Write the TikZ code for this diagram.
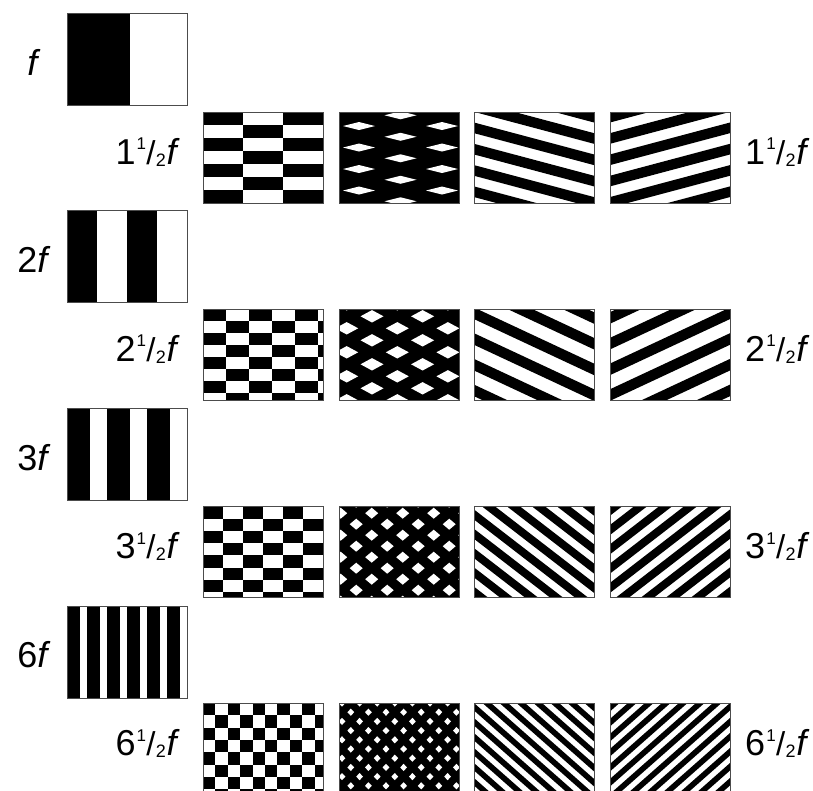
\documentclass[tikz,border=0pt]{standalone}
\usepackage{fontspec}
\setmainfont{Liberation Sans}
\tikzset{
  boxline/.style={draw=black!70, line width=0.9pt},
  lab/.style={inner sep=0pt, font=\fontsize{36}{36}\selectfont}
}
% vertical grating: x y period blackwidth
\newcommand\vgrat[4]{%
  \begin{scope}
    \clip (#1,#2) rectangle ++(120,92);
    \fill[white] (#1,#2) rectangle ++(120,92);
    \foreach \k in {0,...,6}{\fill[black] ({#1+\k*#3},#2) rectangle ++(#4,92);}
  \end{scope}
  \draw[boxline] (#1,#2) rectangle ++(120,92);}
% checkerboard: x y w h
\newcommand\checker[4]{%
  \begin{scope}
    \clip (#1,#2) rectangle ++(120,91);
    \fill[white] (#1,#2) rectangle ++(120,91);
    \foreach \i in {0,...,10}{\foreach \j in {0,...,8}{%
      \pgfmathtruncatemacro\ckpar{mod(\i+\j,2)}%
      \ifnum\ckpar=0 \fill[black] ({#1+\i*#3},{#2+\j*#4}) rectangle ++(#3,#4);\fi}}
  \end{scope}
  \draw[boxline] (#1,#2) rectangle ++(120,91);}
% oblique grating: x y Px Py d y0 flip
\newcommand\stripes[7]{%
  \begin{scope}
    \clip (#1,#2) rectangle ++(120,91);
    \fill[white] (#1,#2) rectangle ++(120,91);
    \begin{scope}[shift={(#1+60,#2)}, xscale=#7, shift={(-60,0)}]
      \pgfmathsetmacro\sl{#4/#3}%
      \pgfmathtruncatemacro\nlo{floor(-(#6+#4+120*\sl)/#4)-1}%
      \pgfmathtruncatemacro\nhi{ceil((91-#6)/#4)+1}%
      \foreach \n in {\nlo,...,\nhi}{%
        \fill[black] (0,{#6+\n*#4}) -- (120,{#6+\n*#4+120*\sl}) -- (120,{#6+(\n+#5)*#4+120*\sl}) -- (0,{#6+(\n+#5)*#4}) -- cycle;}
    \end{scope}
  \end{scope}
  \draw[boxline] (#1,#2) rectangle ++(120,91);}
% plaid with white diamonds: x y x0 y0 step Py a b
\newcommand\diam[8]{%
  \begin{scope}
    \clip (#1,#2) rectangle ++(120,91);
    \fill[black] (#1,#2) rectangle ++(120,91);
    \foreach \i in {-1,...,15}{\foreach \j in {-1,...,6}{%
      \pgfmathsetmacro\dcx{#1+#3+\i*#5}%
      \pgfmathsetmacro\dcy{#2+#4+mod(\i,2)*#6/2+\j*#6}%
      \fill[white] ({\dcx-#7},\dcy) -- (\dcx,{\dcy-#8}) -- ({\dcx+#7},\dcy) -- (\dcx,{\dcy+#8}) -- cycle;}}
  \end{scope}
  \draw[boxline] (#1,#2) rectangle ++(120,91);}
\newcommand\hlab[1]{#1\kern0.03em\raisebox{0.40em}{\fontsize{17}{17}\selectfont 1}\kern0.01em{\fontsize{33}{33}\selectfont /}\kern0.01em\raisebox{-0.06em}{\fontsize{18}{18}\selectfont 2}\kern0.02em\textit{f}}
\begin{document}
\begin{tikzpicture}[x=1pt,y=-1pt]
\useasboundingbox (0,0) rectangle (813,790);
\clip (0,0) rectangle (813,790);
\fill[white] (0,0) rectangle (813,790);
% left column
\vgrat{67}{13}{120}{63}
\vgrat{67}{210}{60}{30}
\vgrat{67}{408}{40}{23}
\vgrat{67}{606}{20}{12.7}
\node[lab, anchor=base] (lf)  at (34,75)    {\textit{f}};
\node[lab, anchor=base] (l2f) at (34,272.5) {2\textit{f}};
\node[lab, anchor=base] (l3f) at (34,470)   {3\textit{f}};
\node[lab, anchor=base] (l6f) at (34,667.5) {6\textit{f}};
% row 1
\checker{203}{112}{40}{13}
\diam{339}{112}{20}{14}{41.5}{21.5}{16}{4}
\stripes{474}{112}{80}{21.3}{0.5}{10.5}{1}
\stripes{610}{112}{80}{21.3}{0.5}{10.5}{-1}
% row 2
\checker{203}{309}{23}{12}
\diam{339}{309}{7.7}{19.3}{25.3}{24}{11.5}{6.2}
\stripes{474}{309}{55}{25.7}{0.45}{-1.5}{1}
\stripes{610}{309}{55}{25.7}{0.45}{-1.5}{-1}
% row 3
\checker{203}{506.5}{20}{12.2}
\diam{339}{506.5}{1.7}{6.7}{15.5}{22}{6.5}{5.5}
\stripes{474}{506.5}{25}{19.3}{0.52}{3}{1}
\stripes{610}{506.5}{25}{19.3}{0.52}{3}{-1}
% row 4
\checker{203}{703}{12.4}{12.3}
\diam{339}{703}{3}{0}{8.8}{18.4}{3.4}{3.6}
\stripes{474}{703}{17}{15}{0.5}{0}{1}
\stripes{610}{703}{17}{15}{0.5}{0}{-1}
% row labels
\node[lab, anchor=base east] (a1) at (180,164)   {\hlab{1}};
\node[lab, anchor=base west] (b1) at (745,164)   {\hlab{1}};
\node[lab, anchor=base east] (a2) at (180,361)   {\hlab{2}};
\node[lab, anchor=base west] (b2) at (745,361)   {\hlab{2}};
\node[lab, anchor=base east] (a3) at (180,558.5) {\hlab{3}};
\node[lab, anchor=base west] (b3) at (745,558.5) {\hlab{3}};
\node[lab, anchor=base east] (a4) at (180,755.5) {\hlab{6}};
\node[lab, anchor=base west] (b4) at (745,755.5) {\hlab{6}};
\end{tikzpicture}
\end{document}
